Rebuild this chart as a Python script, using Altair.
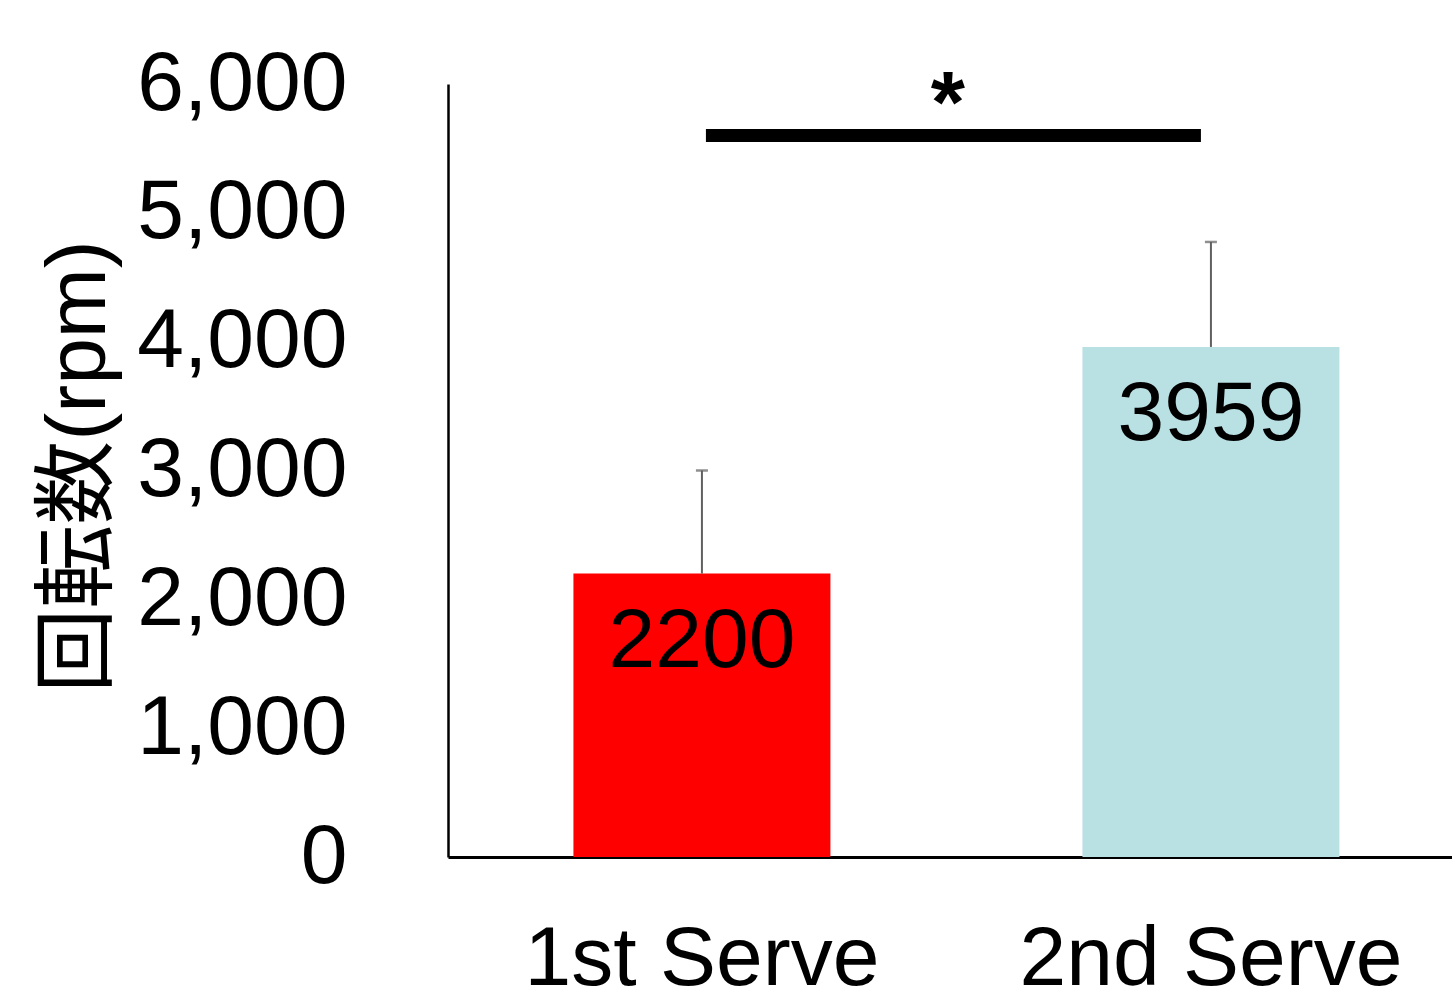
import altair as alt
import pandas as pd

# Spin rate of first vs second serve (mean ± SD)
categories = ["1st Serve", "2nd Serve"]
means = [2200, 3959]
sds = [800, 815]
bar_colors = ["#FF0000", "#B9E0E3"]

# Significance bracket between the two serves
sig_from = ["1st Serve"]
sig_to = ["2nd Serve"]
sig_level = [5600]
sig_text = ["*"]

y_ticks = [0, 1000, 2000, 3000, 4000, 5000, 6000]

df = pd.DataFrame({
    "serve": categories,
    "mean": means,
    "sd": sds,
})
df["top"] = df["mean"] + df["sd"]

sig = pd.DataFrame({"a": sig_from, "b": sig_to, "y": sig_level, "label": sig_text})

FONT = "Liberation Sans"
TITLE_FONT = "Liberation Sans, Noto Sans CJK JP"

xscale = alt.Scale(domain=categories, paddingInner=0.4951, paddingOuter=0.2338, align=0.527)
yscale = alt.Scale(domain=[0, 6000], nice=False, zero=True)

xaxis = alt.Axis(
    labelFont=FONT, labelFontSize=84, labelColor="black", labelAngle=0,
    labelBaseline="alphabetic", labelPadding=127, labelLimit=1000,
    ticks=False, tickSize=0, grid=False,
    domainColor="black", domainWidth=3,
)
yaxis = alt.Axis(
    values=y_ticks, format=",.0f",
    labelFont=FONT, labelFontSize=84, labelColor="black",
    labelPadding=101, labelLimit=1000,
    ticks=False, tickSize=0, grid=False,
    domainColor="black", domainWidth=2.5,
    titleFont=TITLE_FONT, titleFontSize=84, titleFontWeight="normal",
    titleColor="black", titleAngle=-90, titleAlign="center",
    titleBaseline="middle", titleX=-369, titleY=382,
)

Y_TITLE = "回転数(rpm)"


def xenc(field):
    return alt.X(field, type="nominal", scale=xscale, axis=xaxis, title=None)


def yenc(field):
    return alt.Y(field, type="quantitative", scale=yscale, axis=yaxis, title=Y_TITLE)


bars = alt.Chart(df).mark_bar().encode(
    x=xenc("serve"),
    y=yenc("mean"),
    color=alt.Color("serve:N", scale=alt.Scale(domain=categories, range=bar_colors), legend=None),
)

values = alt.Chart(df).mark_text(
    font=FONT, fontSize=84, color="black", align="center", baseline="alphabetic", dy=93,
).encode(
    x=xenc("serve"),
    y=yenc("mean"),
    text=alt.Text("mean:Q", format="d"),
)

err = alt.Chart(df).mark_rule(color="#606060", strokeWidth=2).encode(
    x=xenc("serve"),
    y=yenc("mean"),
    y2="top:Q",
)

caps = alt.Chart(df).mark_tick(color="#606060", size=12, thickness=2.5).encode(
    x=xenc("serve"),
    y=yenc("top"),
)

bracket = alt.Chart(sig).mark_rule(color="black", strokeWidth=13, xOffset=4, x2Offset=-10).encode(
    x=xenc("a"),
    x2="b",
    y=yenc("y"),
)

star = alt.Chart(sig).mark_text(
    font=FONT, fontSize=88, fontWeight="bold", color="black",
    align="center", baseline="alphabetic", dy=-4, xOffset=246,
).encode(
    x=xenc("a"),
    y=yenc("y"),
    text="label:N",
)

chart = alt.layer(bars, err, caps, values, bracket, star).properties(
    width=1004,
    height=773,
    padding={"left": 448, "top": 84, "right": 0, "bottom": 132},
    autosize=alt.AutoSizeParams(type="none"),
    background="white",
).configure_view(stroke="transparent")

chart.save("out.html", embed_options={"renderer": "svg", "actions": False})
